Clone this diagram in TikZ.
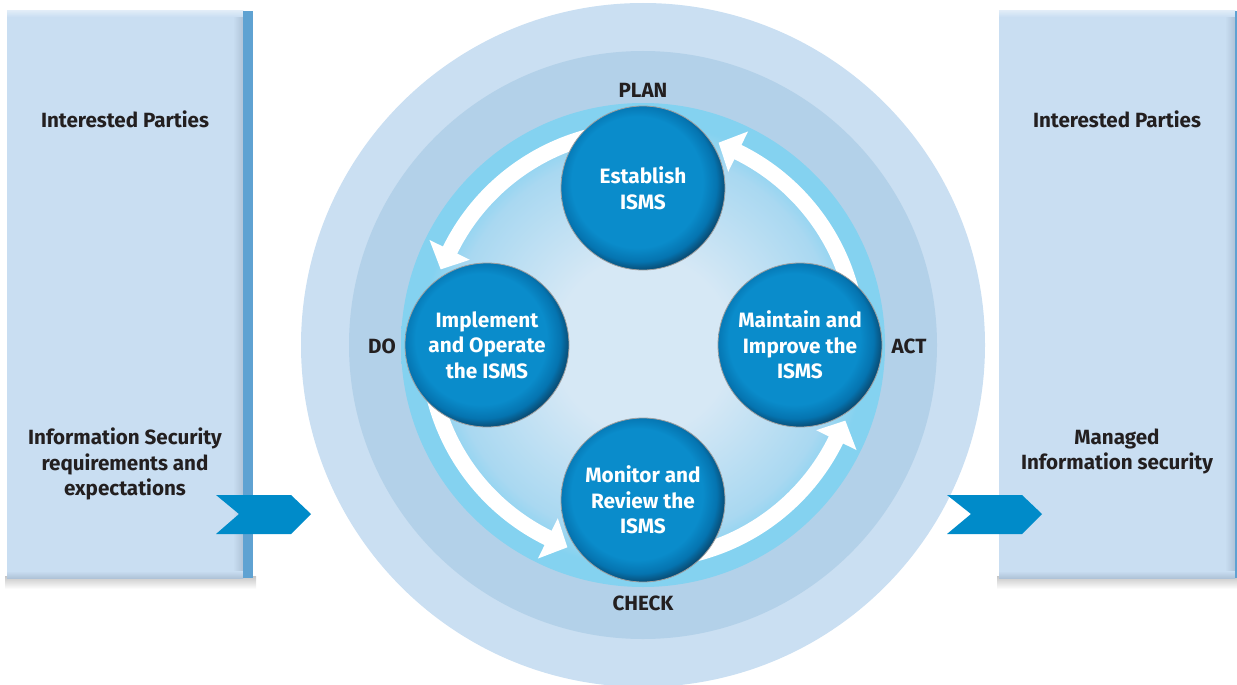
\documentclass[tikz,border=0pt]{standalone}
\usepackage{fontspec}
\setmainfont{Fira Sans}
\usetikzlibrary{calc,shadings}
\definecolor{ringA}{HTML}{CADFF2}
\definecolor{ringB}{HTML}{B3D1E9}
\definecolor{cyanR}{HTML}{84D2F0}
\definecolor{coreL}{HTML}{D6E8F5}
\definecolor{coreM}{HTML}{A9D8F1}
\definecolor{panelC}{HTML}{C9DEF2}
\definecolor{panelE}{HTML}{AFC3D8}
\definecolor{stripC}{HTML}{5FA2D2}
\definecolor{chevC}{HTML}{008BC9}
\definecolor{txtC}{HTML}{231F20}
\definecolor{gA}{HTML}{0A8CCB}
\definecolor{gB}{HTML}{0574B0}
\definecolor{gC}{HTML}{0B2D47}
\pgfdeclareradialshading{coreshade}{\pgfpoint{0bp}{0bp}}{color(0bp)=(coreL); color(9bp)=(coreL); color(20bp)=(coreM); color(23bp)=(cyanR); color(50bp)=(cyanR)}
\pgfdeclareradialshading{glassshade}{\pgfpoint{-3bp}{3bp}}{color(0bp)=(gA); color(20bp)=(gA); color(24bp)=(gB); color(28.5bp)=(gC); color(50bp)=(gC)}
\begin{document}
\begin{tikzpicture}[x=1pt,y=-1pt,
  lbl/.style={font=\bfseries\fontsize{20.6}{25.5}\selectfont, text=txtC, align=center, inner sep=0pt},
  ball/.style={circle, minimum size=164pt, inner sep=0pt, shading=glassshade, draw=gray!75, line width=0.8pt,
    font=\bfseries\fontsize{20.8}{25.5}\selectfont, text=white, align=center},
  panelbox/.style={fill=panelC, inner sep=0pt, minimum width=236pt, minimum height=567pt},
  chev/.style={fill=chevC},
  warc/.style={draw=white, line width=16pt},
  whead/.style={fill=white}]
\useasboundingbox (0,0) rectangle (1237,685);
\clip (0,0) rectangle (1237,685);

% ---- left panel
\shade[top color=gray!45, bottom color=white] (5,576) rectangle (256,589);
\node[panelbox] (lpanel) at (125,294.5) {};
\shade[left color=panelC, right color=panelE] (233,11) rectangle (243,578);
\shade[top color=panelC, bottom color=panelE] (7,571) rectangle (243,578);
\shade[top color=white!40!panelC, bottom color=panelC] (7,11) rectangle (243,17);
\fill[stripC] (243,11) rectangle (253,578);

% ---- right panel
\shade[top color=gray!45, bottom color=white] (997,576) rectangle (1237,589);
\node[panelbox] (rpanel) at (1117,294.5) {};
\shade[left color=panelC, right color=panelE] (1225,11) rectangle (1235,578);
\shade[top color=panelC, bottom color=panelE] (999,571) rectangle (1235,578);
\shade[top color=white!40!panelC, bottom color=panelC] (999,11) rectangle (1235,17);
\fill[stripC] (1235,11) rectangle (1245,578);

% ---- panel texts
\node[lbl] (lint) at (125,119) {Interested Parties};
\node[lbl] (lreq) at (125,464) {Information Security\\requirements and\\expectations};
\node[lbl] (rint) at (1117,119) {Interested Parties};
\node[lbl] (rman) at (1117,451.5) {Managed\\Information security};

% ---- rings
\coordinate (c) at (643,345);
\fill[ringA] (c) circle[radius=342];
\fill[ringB] (c) circle[radius=294];
\shade[shading=coreshade] (c) circle[radius=242];

% ---- chevrons
\fill[chev] (216,495) -- (291,495) -- (311,514) -- (291,534) -- (216,534) -- (239,514) -- cycle;
\fill[chev] (947,495) -- (1022,495) -- (1042,514) -- (1022,534) -- (947,534) -- (971,514) -- cycle;

% ---- phase labels
\node[lbl] (plan) at (643,90) {PLAN};
\node[lbl] (do) at (382,346) {DO};
\node[lbl] (act) at (909,346) {ACT};
\node[lbl] (check) at (643,603) {CHECK};

% ---- white cycle arrows
\foreach \a in {0,90,180,270} {
  \draw[warc] ($(c)+(-\a:215)$) arc[start angle=-\a, end angle=-\a-65, radius=215];
  \fill[whead] ($(c)+(-\a-63.8:193)$) -- ($(c)+(-\a-69.5:216)$) -- ($(c)+(-\a-63.8:238)$) -- cycle;
}

% ---- process circles
\node[ball] (est) at (643,188) {Establish\\ISMS};
\node[ball] (imp) at (487,345) {Implement\\and Operate\\the ISMS};
\node[ball] (mai) at (800,345) {Maintain and\\Improve the\\ISMS};
\node[ball] (mon) at (643,500) {Monitor and\\Review the\\ISMS};
\end{tikzpicture}
\end{document}
